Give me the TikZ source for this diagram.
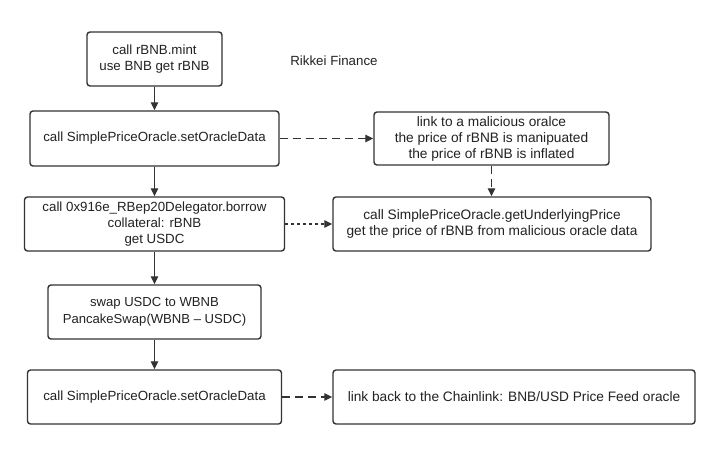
\documentclass[tikz,border=0pt]{standalone}
\usepackage{fontspec}
\setmainfont{Liberation Sans}
\usetikzlibrary{arrows.meta}
\definecolor{edge}{HTML}{333333}
\definecolor{txt}{HTML}{222222}
\begin{document}
\begin{tikzpicture}[x=1pt,y=-1pt,
  box/.style={draw=edge,line width=1.4pt,rounded corners=3pt,align=center,inner sep=0pt,text=txt},
  big/.style={font=\fontsize{13.3}{16}\selectfont},
  bigger/.style={font=\fontsize{13.7}{16}\selectfont},
  conn/.style={draw=edge,line width=1.3pt,-{Triangle[length=8pt,width=7.5pt]}},
  dashedconn/.style={conn,dash pattern=on 8pt off 5pt},
  dottedconn/.style={conn,dash pattern=on 3pt off 3pt}]
\useasboundingbox[fill=white] (0,0) rectangle (724,467);
\node[box,big,minimum width=135pt,minimum height=54pt] (b1) at (154.5,59) {call rBNB.mint\\use BNB get rBNB};
\node[big,text=txt] (title) at (334,61) {Rikkei Finance};
\node[box,big,minimum width=249pt,minimum height=55pt] (b2) at (154.5,138.5) {call SimplePriceOracle.setOracleData};
\node[box,bigger,minimum width=235pt,minimum height=53pt] (mal) at (491.5,138.5) {link to a malicious oralce\\the price of rBNB is manipuated\\the price of rBNB is inflated};
\node[box,big,minimum width=260pt,minimum height=54pt] (borrow) at (154.5,224) {call 0x916e\_RBep20Delegator.borrow\\collateral: rBNB\\get USDC};
\node[box,bigger,minimum width=318pt,minimum height=54pt] (under) at (492,224) {call SimplePriceOracle.getUnderlyingPrice\\get the price of rBNB from malicious oracle data};
\node[box,font=\fontsize{13.1}{16.5}\selectfont,minimum width=213pt,minimum height=54pt] (swap) at (154.5,312) {swap USDC to WBNB\\PancakeSwap(WBNB – USDC)};
\node[box,big,minimum width=254pt,minimum height=54pt] (last) at (154.5,397) {call SimplePriceOracle.setOracleData};
\node[box,bigger,minimum width=362pt,minimum height=54pt] (chain) at (514,397) {link back to the Chainlink: BNB/USD Price Feed oracle};
\draw[conn] (b1.south) -- (b2.north);
\draw[conn] (b2.south) -- (borrow.north -| b2.south);
\draw[conn] (borrow.south) -- (swap.north -| borrow.south);
\draw[conn] (swap.south) -- (last.north -| swap.south);
\draw[dashedconn] (b2.east) -- (mal.west |- b2.east);
\draw[dashedconn] (mal.south) -- (under.north -| mal.south);
\draw[dottedconn] (borrow.east) -- (under.west);
\draw[dashedconn] (last.east) -- (chain.west);
\end{tikzpicture}
\end{document}
